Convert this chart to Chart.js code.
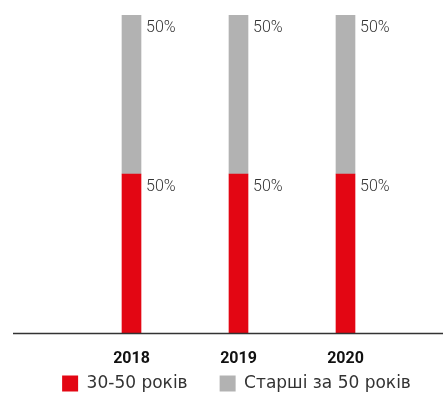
<!DOCTYPE html>
<html>
<head>
<meta charset="utf-8">
<script src="https://cdn.jsdelivr.net/npm/chart.js@4/dist/chart.umd.min.js"></script>
<style>
  html, body { margin: 0; padding: 0; background: #fff; }
  #wrap { width: 443px; height: 395px; position: relative; }
</style>
</head>
<body>
<div id="wrap"><canvas id="c" width="443" height="395"></canvas></div>
<script>
// Age structure by year (share, %)
const years = ['2018', '2019', '2020'];
const age30to50 = [50, 50, 50];
const over50 = [50, 50, 50];
const seriesNames = ['30-50 років', 'Старші за 50 років'];

const FONT = "'DejaVu Sans', 'Open Sans', sans-serif";
const NUM_FONT = "Roboto, 'Open Sans', sans-serif";

// Percentage labels placed to the right of each segment, near its top
const segmentLabels = {
  id: 'segmentLabels',
  afterDatasetsDraw(chart) {
    const ctx = chart.ctx;
    ctx.save();
    ctx.font = "300 16px " + NUM_FONT;
    ctx.fillStyle = '#333';
    ctx.textAlign = 'left';
    ctx.textBaseline = 'alphabetic';
    chart.data.datasets.forEach((ds, di) => {
      chart.getDatasetMeta(di).data.forEach((bar, i) => {
        const x = bar.x + bar.width / 2 + 5;
        const y = Math.min(bar.y, bar.base) + 17;
        ctx.fillText(ds.data[i] + '%', x, y);
      });
    });
    ctx.restore();
  }
};

// Baseline across the whole width at value 0, plus bold year labels under it
const baseline = {
  id: 'baseline',
  afterDatasetsDraw(chart) {
    const yBase = chart.scales.y.getPixelForValue(0);
    const y = Math.round(yBase) + 0.5;
    const ctx = chart.ctx;
    ctx.save();
    ctx.strokeStyle = '#333';
    ctx.lineWidth = 1.5;
    ctx.beginPath();
    ctx.moveTo(13, y);
    ctx.lineTo(chart.width, y);
    ctx.stroke();

    const xs = chart.scales.x;
    ctx.font = "bold 16px " + NUM_FONT;
    ctx.fillStyle = '#111';
    ctx.textAlign = 'center';
    ctx.textBaseline = 'alphabetic';
    chart.data.labels.forEach((lab, i) => {
      ctx.fillText(lab, xs.getPixelForTick(i), yBase + 30);
    });
    ctx.restore();
  }
};

const hiddenAxis = (w, pos) => ({
  position: pos,
  display: true,
  min: 0,
  max: 100,
  grid: { display: false },
  border: { display: false },
  ticks: { display: false },
  afterFit(scale) { scale.width = w; }
});

new Chart(document.getElementById('c'), {
  type: 'bar',
  data: {
    labels: years,
    datasets: [
      { label: seriesNames[0], data: age30to50, backgroundColor: '#E30613', barThickness: 19 },
      { label: seriesNames[1], data: over50, backgroundColor: '#B2B2B2', barThickness: 19 }
    ]
  },
  options: {
    responsive: false,
    animation: false,
    layout: { padding: { left: 30, right: 0, top: 15, bottom: 0 } },
    scales: {
      x: {
        stacked: true,
        grid: { display: false, drawTicks: false },
        border: { display: false },
        ticks: { display: false },
        afterFit(scale) { scale.height = 10; }
      },
      y: Object.assign(hiddenAxis(48, 'left'), { stacked: true }),
      yRight: hiddenAxis(44, 'right')
    },
    plugins: {
      tooltip: { enabled: false },
      legend: {
        position: 'bottom',
        maxHeight: 52,
        labels: {
          boxWidth: 16,
          boxHeight: 16,
          padding: 32,
          color: '#333',
          font: { family: FONT, size: 17 }
        }
      }
    }
  },
  plugins: [segmentLabels, baseline]
});
</script>
</body>
</html>
